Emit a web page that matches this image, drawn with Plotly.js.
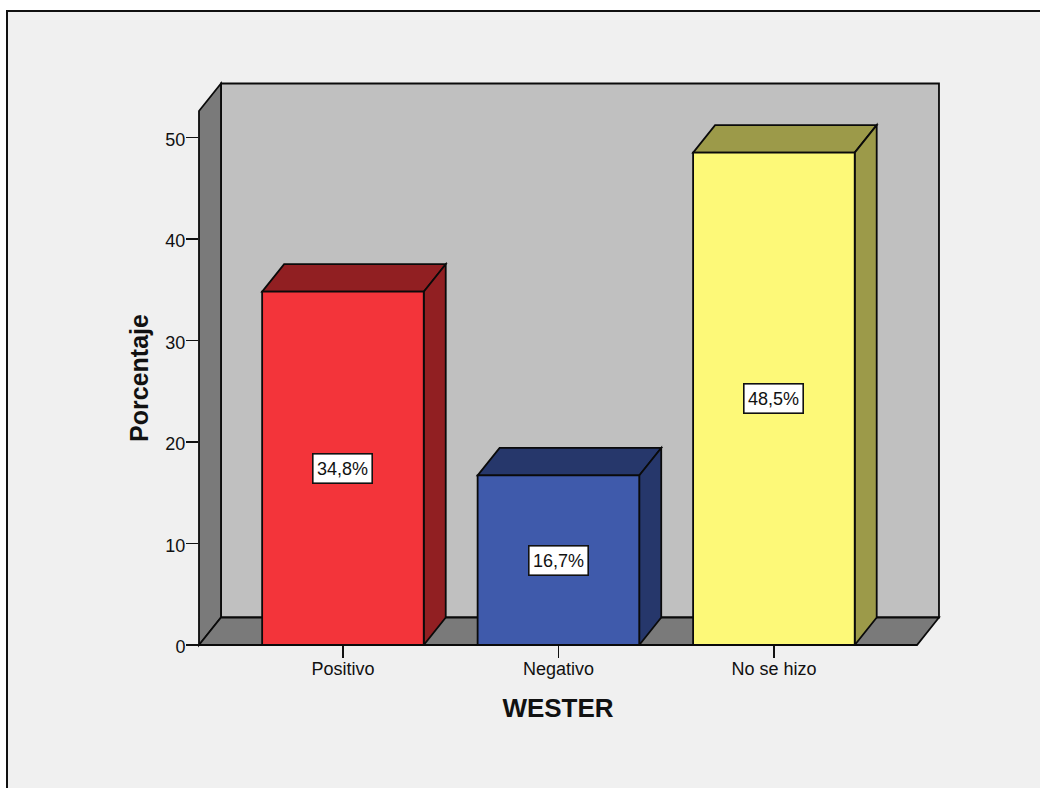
<!DOCTYPE html>
<html>
<head>
<meta charset="utf-8">
<script src="https://cdn.plot.ly/plotly-3.0.1.min.js"></script>
<style>
html,body{margin:0;padding:0;background:#fff;overflow:hidden}
#frame{position:absolute;left:6px;top:10px;width:1032px;height:776px;border-left:2px solid #111;border-top:2px solid #111;background:#f0f0f0}
</style>
</head>
<body>
<div id="frame"></div>
<script>
var categories = ["Positivo", "Negativo", "No se hizo"];
var values = [34.8, 16.7, 48.5];
var valueLabels = ["34,8%", "16,7%", "48,5%"];
var frontColors = ["#f3343a", "#3f5aab", "#fdf978"];
var depthColors = ["#911f22", "#26376b", "#9c9a49"];
var yTicks = [0, 10, 20, 30, 40, 50];

var barWidth = 0.75;
var depthX = 0.102;   // depth of the 3D box in category units
var depthY = 2.71;    // depth of the 3D box in value units
var xRange = [-0.668, 2.664];
var yRange = [0, 52.6];
var wallDX = depthX / (xRange[1] - xRange[0]);
var wallDY = depthY / (yRange[1] - yRange[0]);
var edge = {color: "#0a0a0a", width: 1.8};
var wallGrey = "#7a7a7a", backGrey = "#c0c0c0";

function paperPoly(pts, fill) {
  return {type: "path", xref: "paper", yref: "paper", layer: "below", fillcolor: fill, line: edge,
    path: "M " + pts.map(function (p) { return p[0] + " " + p[1]; }).join(" L ") + " Z"};
}
function dataPoly(pts, fill) {
  return {type: "path", xref: "x", yref: "y", layer: "below", fillcolor: fill, line: edge,
    path: "M " + pts.map(function (p) { return p[0] + " " + p[1]; }).join(" L ") + " Z"};
}

var shapes = [
  paperPoly([[wallDX, wallDY], [1 + wallDX, wallDY], [1 + wallDX, 1 + wallDY], [wallDX, 1 + wallDY]], backGrey),
  paperPoly([[0, 0], [wallDX, wallDY], [wallDX, 1 + wallDY], [0, 1]], wallGrey),
  paperPoly([[0, 0], [1, 0], [1 + wallDX, wallDY], [wallDX, wallDY]], wallGrey)
];
values.forEach(function (v, i) {
  var l = i - barWidth / 2, r = i + barWidth / 2;
  shapes.push(dataPoly([[l, v], [r, v], [r + depthX, v + depthY], [l + depthX, v + depthY]], depthColors[i]));
  shapes.push(dataPoly([[r, 0], [r + depthX, depthY], [r + depthX, v + depthY], [r, v]], depthColors[i]));
});

var annotations = values.map(function (v, i) {
  return {x: categories[i], y: v / 2, xref: "x", yref: "y", text: valueLabels[i], showarrow: false,
    font: {family: "Liberation Sans, Arial, sans-serif", size: 18, color: "#111"},
    bgcolor: "#fff", bordercolor: "#111", borderwidth: 1.6, borderpad: 0, width: 58, height: 28,
    align: "center", valign: "middle"};
});

var trace = {type: "bar", x: categories, y: values, width: barWidth,
  marker: {color: frontColors, line: {color: "#0a0a0a", width: 1.8}}, hoverinfo: "x+y", showlegend: false};

var layout = {
  width: 1032, height: 776, autosize: false,
  margin: {l: 191, r: 123, t: 99, b: 143, pad: 0},
  paper_bgcolor: "rgba(0,0,0,0)", plot_bgcolor: "rgba(0,0,0,0)",
  font: {family: "Liberation Sans, Arial, sans-serif", color: "#111"},
  showlegend: false,
  xaxis: {type: "category", categoryorder: "array", categoryarray: categories, range: xRange, autorange: false,
    showgrid: false, zeroline: false, showline: false, ticks: "outside", ticklen: 12, tickwidth: 1.6, tickcolor: "#111",
    tickfont: {size: 18, color: "#111"}, automargin: false, ticklabelstandoff: -5,
    title: {text: "<b>WESTER</b>", font: {size: 26, color: "#111"}, standoff: 21}},
  yaxis: {range: yRange, autorange: false, tickmode: "array", tickvals: yTicks,
    showgrid: false, zeroline: false, showline: false, ticks: "outside", ticklen: 12, tickwidth: 1.6, tickcolor: "#111",
    tickfont: {size: 18, color: "#111"}, automargin: false, ticklabelstandoff: -3, ticklabelshift: 2,
    title: {text: "<b>Porcentaje</b>", font: {size: 25, color: "#111"}, standoff: 9}},
  shapes: shapes, annotations: annotations
};
Plotly.newPlot("frame", [trace], layout, {displayModeBar: false, staticPlot: true});
</script>
</body>
</html>
